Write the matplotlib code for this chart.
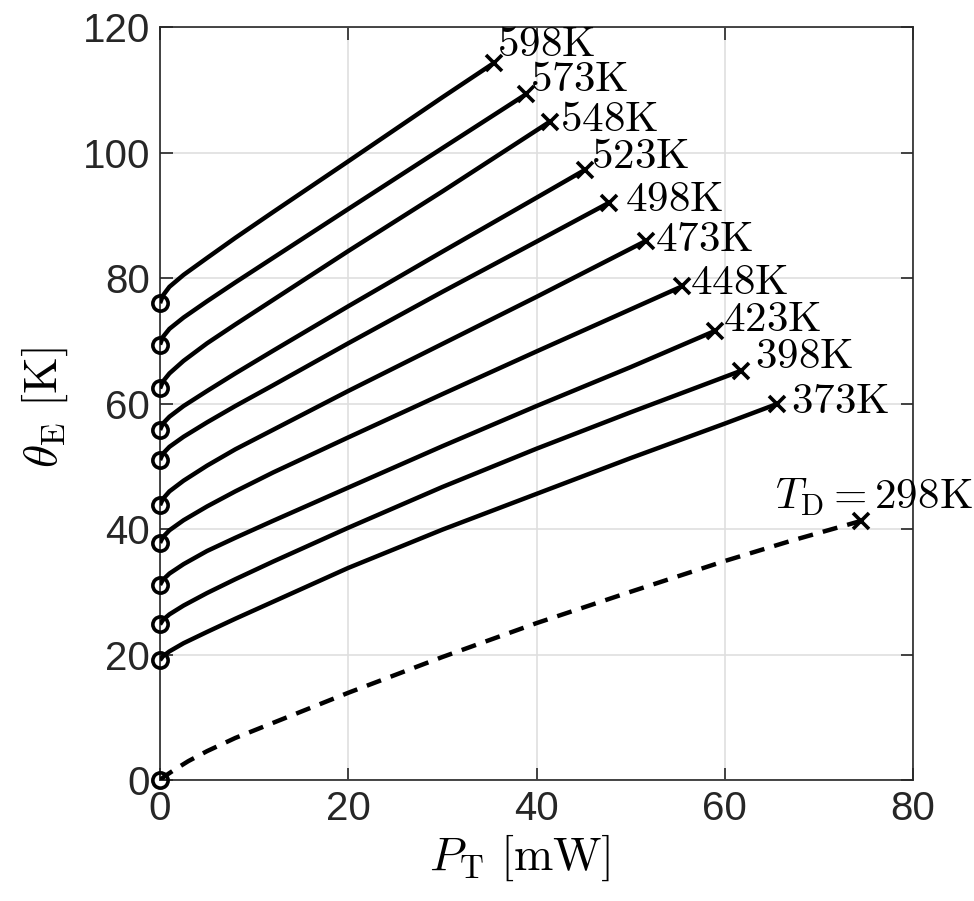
import matplotlib
matplotlib.use("Agg")
import matplotlib.pyplot as plt

plt.rcParams['mathtext.fontset'] = 'cm'
plt.rcParams['font.family'] = ['Liberation Sans', 'DejaVu Sans']

# curve data: P_T [mW] and theta_E [K]
p_598 = [0, 0.3, 1, 2.5, 5, 8, 12, 20, 30, 35.5]
th_598 = [76.0, 77.2, 78.6, 80.5, 83.2, 86.4, 90.5, 98.6, 108.8, 114.3]

p_573 = [0, 0.3, 1, 2.5, 5, 8, 12, 20, 30, 38.9]
th_573 = [69.4, 70.6, 71.9, 73.7, 76.3, 79.3, 83.2, 91.0, 100.7, 109.3]

p_548 = [0, 0.3, 1, 2.5, 5, 8, 12, 20, 30, 41.4]
th_548 = [62.4, 63.5, 64.8, 66.8, 69.6, 72.6, 76.5, 84.3, 93.8, 104.9]

p_523 = [0, 0.3, 1, 2.5, 5, 8, 12, 20, 30, 40, 45.1]
th_523 = [55.8, 56.8, 57.9, 59.6, 62.0, 64.8, 68.4, 75.5, 84.2, 92.8, 97.2]

p_498 = [0, 0.3, 1, 2.5, 5, 8, 12, 20, 30, 40, 47.7]
th_498 = [51.0, 52.0, 53.1, 54.7, 57.0, 59.6, 62.9, 69.6, 77.8, 85.8, 92.0]

p_473 = [0, 0.3, 1, 2.5, 5, 8, 12, 20, 30, 40, 51.6]
th_473 = [43.8, 44.8, 46.0, 47.7, 50.1, 52.7, 55.8, 62.0, 69.5, 77.0, 85.9]

p_448 = [0, 0.3, 1, 2.5, 5, 8, 12, 20, 30, 40, 55.5]
th_448 = [37.8, 38.7, 39.8, 41.4, 43.6, 46.0, 49.0, 54.6, 61.5, 68.3, 78.7]

p_423 = [0, 0.3, 1, 2.5, 5, 8, 12, 20, 30, 40, 50, 59.0]
th_423 = [31.1, 31.9, 32.9, 34.4, 36.5, 38.6, 41.3, 46.6, 53.2, 59.6, 65.8, 71.6]

p_398 = [0, 0.3, 1, 2.5, 5, 8, 12, 20, 30, 40, 50, 61.7]
th_398 = [24.8, 25.5, 26.4, 27.8, 29.8, 32.0, 34.8, 40.2, 46.7, 52.8, 58.6, 65.2]

p_373 = [0, 0.3, 1, 2.5, 5, 8, 12, 20, 30, 40, 50, 60, 65.5]
th_373 = [19.1, 19.7, 20.5, 21.8, 23.6, 25.7, 28.4, 33.8, 39.9, 45.6, 51.3,
          56.8, 59.9]

p_298 = [0, 0.5, 1.5, 3, 5, 8, 12, 20, 30, 40, 50, 60, 67, 74.5]
th_298 = [0, 0.6, 1.6, 3.0, 4.6, 6.7, 9.1, 13.9, 19.6, 25.0, 30.0, 34.9, 38.1,
          41.3]

labels = ['598K', '573K', '548K', '523K', '498K', '473K', '448K', '423K',
          '398K', '373K']
curves_p = [p_598, p_573, p_548, p_523, p_498, p_473, p_448, p_423, p_398, p_373]
curves_th = [th_598, th_573, th_548, th_523, th_498, th_473, th_448, th_423,
             th_398, th_373]

# label offsets from the end marker, in pixels
label_off = [(3, 18), (4, 14), (10, 2), (6, 13), (16, 3), (9, 1), (8, 3),
             (8, 11), (14, 14), (14, 2)]

fig = plt.figure(figsize=(9.74, 9.01), dpi=100)
ax = fig.add_axes([0.1643, 0.1343, 0.7731, 0.8357])

lw = 3.2
mk = dict(ms=11, mec='k', mew=2.6, zorder=4, clip_on=False)
for p, th, lab, off in zip(curves_p, curves_th, labels, label_off):
    ax.plot(p, th, color='k', lw=lw, zorder=3, solid_capstyle='butt')
    ax.plot(p[0], th[0], 'o', mfc='none', **mk)
    ax.plot(p[-1], th[-1], 'x', **mk)
    ax.annotate(r'$\mathrm{' + lab + '}$', (p[-1], th[-1]), xytext=off,
                textcoords='offset pixels', fontsize=31, va='center', ha='left')

ax.plot(p_298, th_298, color='k', lw=lw, dashes=(3.4, 2.3), zorder=3)
ax.plot(p_298[0], th_298[0], 'o', mfc='none', **mk)
ax.plot(p_298[-1], th_298[-1], 'x', **mk)
ax.annotate(r'$T_{\mathrm{D}}=\mathrm{298K}$', (p_298[-1], th_298[-1]),
            xytext=(-86, 24), textcoords='offset pixels', fontsize=31,
            va='center', ha='left', annotation_clip=False)

ax.set_xlim(0, 80)
ax.set_ylim(0, 120)
ax.set_xticks([0, 20, 40, 60, 80])
ax.set_yticks([0, 20, 40, 60, 80, 100, 120])
ax.grid(True, color='#dfdfdf', lw=1.2)
ax.set_axisbelow(True)
ax.tick_params(direction='in', length=9, width=1.2, top=True, right=True,
               labelsize=29, colors='#262626', labelcolor='#262626', pad=7)
for s in ax.spines.values():
    s.set_color('#262626')
    s.set_linewidth(1.2)

ax.set_xlabel(r'$P_{\mathrm{T}}\ \mathrm{[mW]}$', fontsize=34, va='center')
ax.set_ylabel(r'$\theta_{\mathrm{E}}\ \mathrm{[K]}$', fontsize=34, va='center')
ax.xaxis.set_label_coords(0.478, -0.103)
ax.yaxis.set_label_coords(-0.153, 0.495)

fig.savefig('out.png', dpi=100)
